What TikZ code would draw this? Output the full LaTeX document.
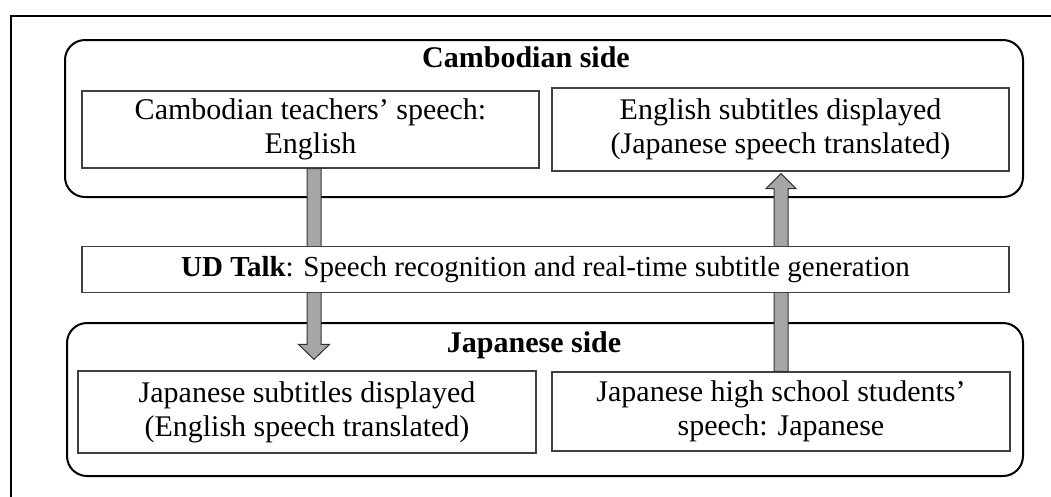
\documentclass[tikz,border=0pt]{standalone}
\usepackage{fontspec}
\setmainfont{Liberation Serif}
\usetikzlibrary{positioning,calc}

\begin{document}
\begin{tikzpicture}[x=1pt,y=-1pt,
  side/.style={rectangle,draw=black,rounded corners=20pt,line width=2pt},
  box/.style={rectangle,draw=black!75,line width=1.2pt,fill=white,
              align=center,inner sep=0pt,
              font=\fontsize{30}{34}\selectfont},
  head/.style={inner sep=0pt,font=\fontsize{30}{34}\selectfont\bfseries},
  fat/.style={draw=black!80,line width=1pt,fill=black!35,line join=miter},
  frame/.style={draw=black,line width=2pt}]
\useasboundingbox (0,0) rectangle (1051,496);
%%
%% Outer frame (cut at right and bottom)
\draw[frame] (11,520) -- (11,16) -- (1070,16);
%%
%% Side panels
\node[side,minimum width=958pt,minimum height=157pt](cam) at (544,118.5) {};
\node[side,minimum width=956pt,minimum height=153pt](jap) at (545,399.5) {};
\node[head,anchor=base](camhead) at (526,67) {Cambodian side};
\node[head,anchor=base](japhead) at (534,352) {Japanese side};
%%
%% Boxes
\node[box,minimum width=457pt,minimum height=77pt](teach) at (310.5,129.5)
  {Cambodian teachers’ speech:\\English};
\node[box,minimum width=457pt,minimum height=83pt](eng) at (780.5,129.5)
  {English subtitles displayed\\(Japanese speech translated)};
\node[box,minimum width=458pt,minimum height=82pt](jsub) at (307,412)
  {Japanese subtitles displayed\\(English speech translated)};
\node[box,minimum width=458pt,minimum height=79pt](jstud) at (781,411.5)
  {Japanese high school students’\\speech: Japanese};
%%
%% Down arrow: teachers' speech -> Japanese subtitles
\coordinate (dtop) at ([xshift=3.5pt]teach.south);
\path (jsub.north -| dtop) ++(0,11pt) coordinate (dtip);
\draw[fat] ([xshift=-7pt]dtop) -- ([xshift=-7pt,yshift=15pt]dtip)
  -- ([xshift=-15.5pt,yshift=15pt]dtip) -- (dtip)
  -- ([xshift=15.5pt,yshift=15pt]dtip) -- ([xshift=7pt,yshift=15pt]dtip)
  -- ([xshift=7pt]dtop) -- cycle;
%%
%% Up arrow: students' speech -> English subtitles
\coordinate (ubot) at (jstud.north);
\path (eng.south -| ubot) ++(0,-2pt) coordinate (utip);
\draw[fat] ([xshift=-7pt]ubot) -- ([xshift=-7pt,yshift=-15pt]utip)
  -- ([xshift=-15pt,yshift=-15pt]utip) -- (utip)
  -- ([xshift=15pt,yshift=-15pt]utip) -- ([xshift=7pt,yshift=-15pt]utip)
  -- ([xshift=7pt]ubot) -- cycle;
%%
%% UD Talk bar (over the arrows)
\node[box,minimum width=927pt,minimum height=46pt,
      font=\fontsize{29}{33}\selectfont](udtalk) at (545.5,269.5)
  {\textbf{UD Talk}: Speech recognition and real-time subtitle generation};
\end{tikzpicture}
\end{document}
